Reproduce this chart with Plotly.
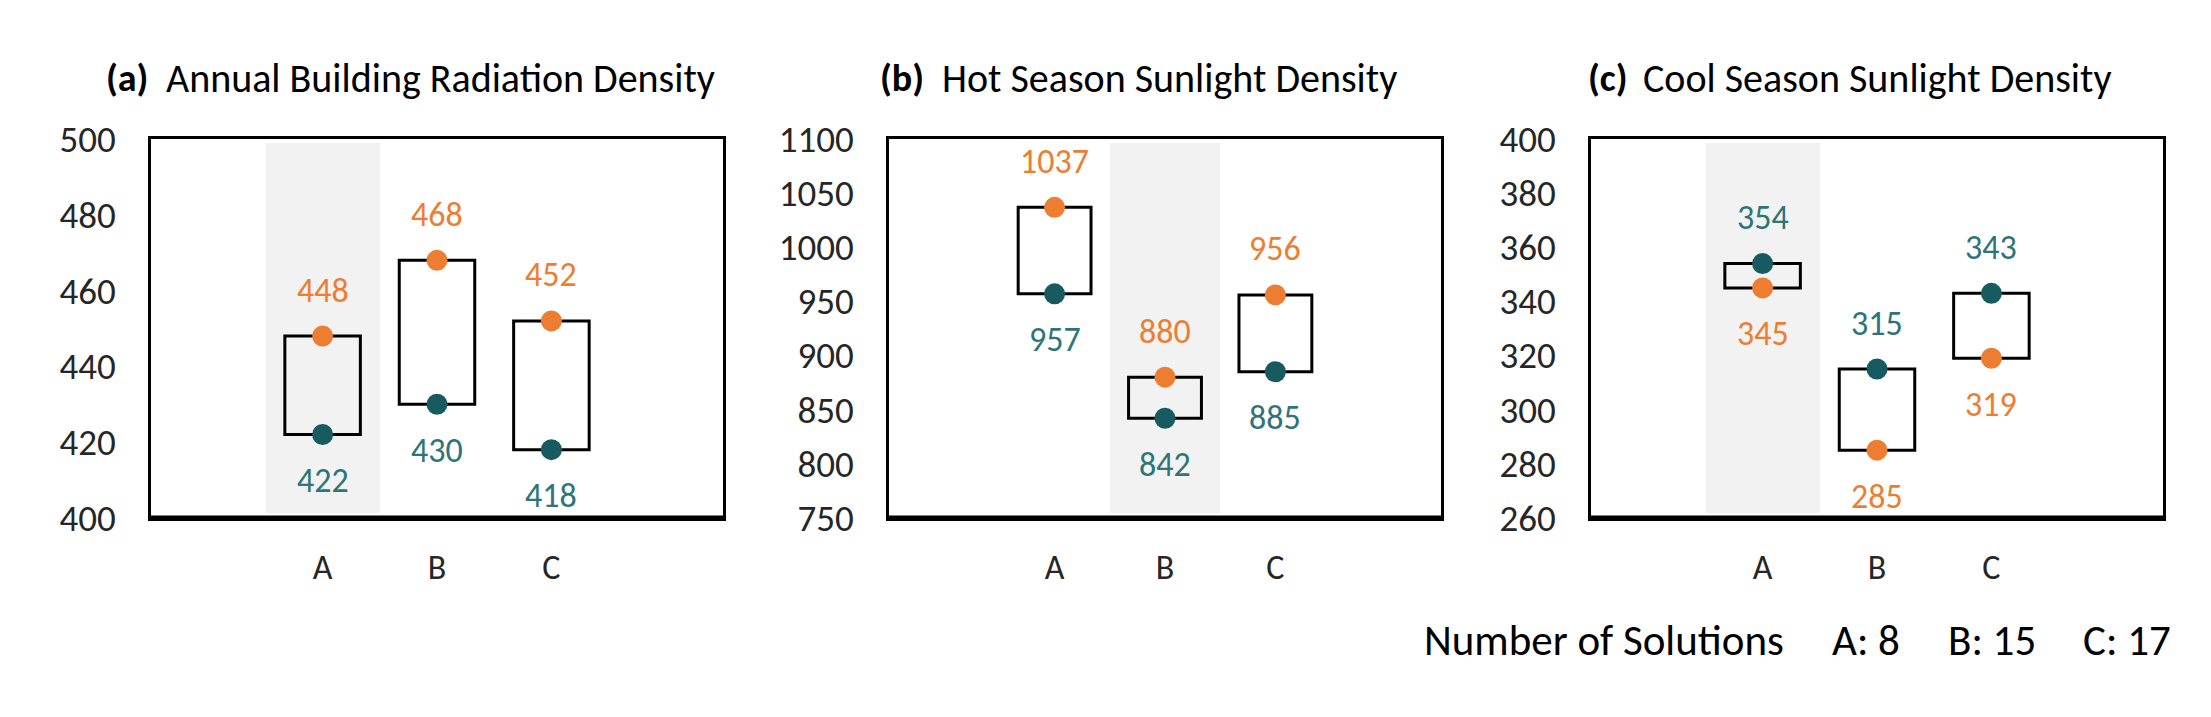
import plotly.graph_objects as go

# ---------------- data ----------------
categories = ["A", "B", "C"]

panel_letters = ["(a)", "(b)", "(c)"]
panel_titles = ["Annual Building Radiation Density",
                "Hot Season Sunlight Density",
                "Cool Season Sunlight Density"]

orange_a = [448, 468, 452]
teal_a = [422, 430, 418]
orange_b = [1037, 880, 956]
teal_b = [957, 842, 885]
orange_c = [345, 285, 319]
teal_c = [354, 315, 343]

y_ranges = [[400, 500], [750, 1100], [260, 400]]
y_dticks = [20, 50, 20]
shaded_category = ["A", "B", "A"]

solution_labels = ["Number of Solutions", "A: 8", "B: 15", "C: 17"]

# ---------------- styling ----------------
W, H = 2211, 717
FONT = "Carlito, Lato, sans-serif"
ORANGE = "#ED7D31"
TEAL = "#175B60"
TEAL_TXT = "#2E7479"
BAND = "#F2F2F2"

x_domains = [(151, 723), (889, 1441), (1591, 2163)]
plot_top, plot_bottom = 125, 529
title_letter_x = [104, 878, 1586]
title_text_x = [164, 940, 1641]

def px_x(p):
    return p / W

def px_y(p):
    return 1 - p / H

fig = go.Figure()
series = [(orange_a, teal_a), (orange_b, teal_b), (orange_c, teal_c)]
xpos = list(range(len(categories)))

annotations = []
shapes = []
layout_axes = {}

for i, (orng, teal) in enumerate(series):
    xa = "x" if i == 0 else f"x{i+1}"
    ya = "y" if i == 0 else f"y{i+1}"
    lows = [min(o, t) for o, t in zip(orng, teal)]
    spans = [abs(o - t) for o, t in zip(orng, teal)]

    # floating boxes (bars with base)
    fig.add_trace(go.Bar(
        x=xpos, y=spans, base=lows, width=0.66,
        marker=dict(color="rgba(0,0,0,0)", line=dict(color="black", width=3)),
        xaxis=xa, yaxis=ya, showlegend=False, hoverinfo="skip"))
    # markers
    fig.add_trace(go.Scatter(
        x=xpos, y=orng, mode="markers",
        marker=dict(color=ORANGE, size=21, line=dict(width=0)),
        xaxis=xa, yaxis=ya, showlegend=False))
    fig.add_trace(go.Scatter(
        x=xpos, y=teal, mode="markers",
        marker=dict(color=TEAL, size=21, line=dict(width=0)),
        xaxis=xa, yaxis=ya, showlegend=False))

    # value labels
    for k in xpos:
        o, t = orng[k], teal[k]
        for val, col, up in ((o, ORANGE, o >= t), (t, TEAL_TXT, t > o)):
            annotations.append(dict(
                x=k, y=val, xref=xa, yref=ya, text=str(val), showarrow=False,
                yshift=46 if up else -46, xanchor="center", yanchor="middle",
                font=dict(family=FONT, size=34, color=col)))

    # shaded band
    sk = categories.index(shaded_category[i])
    shapes.append(dict(type="rect", xref=xa, yref=f"{ya} domain",
                       x0=sk - 0.5, x1=sk + 0.5, y0=0.012, y1=0.99,
                       fillcolor=BAND, line=dict(width=0), layer="below"))
    # thicker bottom frame line
    shapes.append(dict(type="line", xref=f"{xa} domain", yref=f"{ya} domain",
                       x0=0, x1=1, y0=0, y1=0, line=dict(color="black", width=4.5),
                       layer="above"))

    d0, d1 = x_domains[i]
    layout_axes["xaxis" if i == 0 else f"xaxis{i+1}"] = dict(
        domain=[px_x(d0), px_x(d1)], range=[-1.5, 3.5], anchor=ya,
        tickvals=xpos, ticktext=categories, showgrid=False, zeroline=False,
        showline=True, mirror=True, linecolor="black", linewidth=3,
        ticks="", ticklabelstandoff=17,
        tickfont=dict(family=FONT, size=34, color="#262626"), fixedrange=True)
    layout_axes["yaxis" if i == 0 else f"yaxis{i+1}"] = dict(
        domain=[px_y(plot_bottom), px_y(plot_top)], range=y_ranges[i],
        dtick=y_dticks[i], anchor=xa, showgrid=False, zeroline=False,
        showline=True, mirror=True, linecolor="black", linewidth=2.5,
        ticks="", ticklabelstandoff=25,
        tickfont=dict(family=FONT, size=37, color="#262626"), fixedrange=True)

    # titles
    annotations.append(dict(
        x=px_x(title_letter_x[i]), y=px_y(60), xref="paper", yref="paper",
        text=f"<b>{panel_letters[i]}</b>", showarrow=False,
        xanchor="left", yanchor="middle",
        font=dict(family=FONT, size=38, color="black")))
    annotations.append(dict(
        x=px_x(title_text_x[i]), y=px_y(60), xref="paper", yref="paper",
        text=panel_titles[i], showarrow=False,
        xanchor="left", yanchor="middle",
        font=dict(family=FONT, size=40, color="black")))

# number of solutions note
sol_x = [1422, 1830, 1946, 2081]
for lbl, xp in zip(solution_labels, sol_x):
    annotations.append(dict(
        x=px_x(xp), y=px_y(660), xref="paper", yref="paper", text=lbl,
        showarrow=False, xanchor="left", yanchor="middle",
        font=dict(family=FONT, size=43, color="black")))

fig.update_layout(
    width=W, height=H, margin=dict(l=0, r=0, t=0, b=0),
    paper_bgcolor="white", plot_bgcolor="rgba(0,0,0,0)",
    barmode="overlay", showlegend=False,
    annotations=annotations, shapes=shapes, **layout_axes)

fig.write_html("out.html", config={"displayModeBar": False},
               post_script="document.body.style.margin='0';document.body.style.overflow='hidden';")
